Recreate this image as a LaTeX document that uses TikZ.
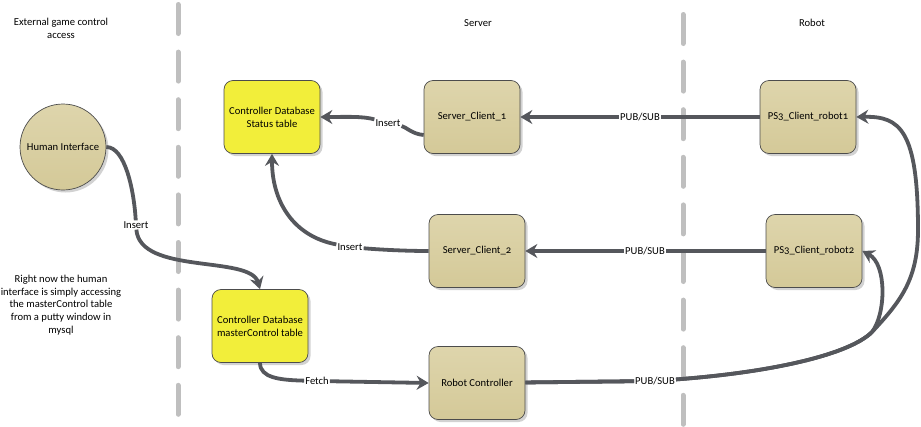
\documentclass[tikz,border=0pt]{standalone}
\usepackage{fontspec}
\setmainfont{Carlito}[Numbers=OldStyle]
\usepackage{tikz}
\usetikzlibrary{arrows.meta,shadows}
\definecolor{boxtan}{RGB}{212,201,152}
\definecolor{boxtanlight}{RGB}{222,213,172}
\definecolor{dbyellow}{RGB}{242,238,58}
\definecolor{linkgray}{RGB}{85,87,92}

\begin{document}
\begin{tikzpicture}[x=1pt, y=-1pt, font=\fontsize{10.6}{13}\selectfont,
  unit/.style={draw=black!70, line width=0.7pt, rounded corners=9pt,
    minimum width=96pt, minimum height=73pt, align=center,
    drop shadow={shadow xshift=2.5pt, shadow yshift=-2.5pt, fill=black!35, opacity=0.5}},
  client/.style={unit, top color=boxtanlight, bottom color=boxtan},
  db/.style={unit, fill=dbyellow},
  link/.style={draw=linkgray, line width=3.8pt,
    -{Stealth[length=12pt,width=14pt,inset=4pt]}},
  lbl/.style={fill=white, inner sep=1pt},
  lane/.style={draw=black!25, line width=5pt, line cap=round,
    dash pattern=on 29pt off 18.6pt}]

\useasboundingbox (0,0) rectangle (921,426);

% Lane separators
\draw[lane] (178,4.5) -- (178,426);
\draw[lane] (683,14.5) -- (683,426);

% Lane titles
\node[align=center] (ext) at (61,28) {External game control\\access};
\node (srv) at (478,23) {Server};
\node (rob) at (812,23) {Robot};

% Human side
\node[circle, draw=black!70, line width=0.7pt, minimum size=86pt, inner sep=0pt,
      top color=boxtanlight, bottom color=boxtan,
      drop shadow={shadow xshift=2.5pt, shadow yshift=-2.5pt, fill=black!35, opacity=0.5}]
      (hi) at (63,147) {Human Interface};
\node[align=center, font=\fontsize{10.6}{12.7}\selectfont] (note) at (61,305)
      {Right now the human\\interface is simply accessing\\the masterControl table\\from a putty window in\\mysql};

% Databases
\node[db] (status) at (272,117) {Controller Database\\Status table};
\node[db] (master) at (260,326) {Controller Database\\masterControl table};

% Clients
\node[client] (sc1) at (472,117) {Server\_Client\_1};
\node[client] (sc2) at (477,251) {Server\_Client\_2};
\node[client] (rc)  at (477,383) {Robot Controller};
\node[client] (ps1) at (808,117) {PS3\_Client\_robot1};
\node[client] (ps2) at (814,251) {PS3\_Client\_robot2};

% Link labels
\node[lbl] (ins1)  at (388,123) {Insert};
\node[lbl] (ins2)  at (350,247) {Insert};
\node[lbl] (ins3)  at (136,225) {Insert};
\node[lbl] (fetch) at (317,381) {Fetch};
\node[lbl] (pub1)  at (640,117) {PUB/SUB};
\node[lbl] (pub2)  at (645,251) {PUB/SUB};
\node[lbl] (pub3)  at (655,381) {PUB/SUB};
\coordinate (split) at (872,332);

% Links
\draw[link] ([yshift=-18pt]sc1.west) .. controls (412,134) and (406,127) .. (ins1)
      .. controls (362,116) and (345,117) .. (status.east);
\draw[link] (ps1) -- (pub1) -- (sc1);
\draw[link] (sc2) .. controls (400,251) and (372,249) .. (ins2)
      .. controls (292,236) and (272,200) .. (status.south);
\draw[link] (ps2) -- (pub2) -- (sc2);
\draw[link] (hi.east) .. controls (125,147) and (134,190) .. (ins3)
      .. controls (140,275) and (250,255) .. (master.north);
\draw[link] (master.south) .. controls (260,378) and (280,380) .. (fetch) -- (rc.west);
\draw[link] (rc) -- (pub3) .. controls (775,372) and (850,354) .. (split)
      .. controls (900,302) and (918,280) .. (918,230)
      .. controls (918,130) and (900,116) .. (ps1.east);
\draw[link] (rc) -- (pub3) .. controls (775,372) and (850,354) .. (split)
      .. controls (886,314) and (887,264) .. (ps2.east);

\end{tikzpicture}
\end{document}
